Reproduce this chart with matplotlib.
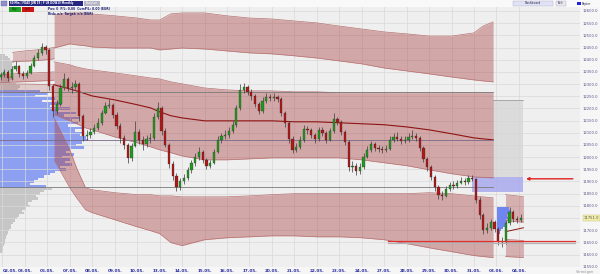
import matplotlib
matplotlib.use("Agg")
import matplotlib.pyplot as plt
from matplotlib.patches import Rectangle

# ---------------- data ----------------
date_labels = ["02.05.", "03.05.", "06.05.", "07.05.", "08.05.", "09.05.", "10.05.",
               "13.05.", "14.05.", "15.05.", "16.05.", "17.05.", "20.05.", "21.05.",
               "22.05.", "23.05.", "24.05.", "27.05.", "28.05.", "29.05.", "30.05.",
               "31.05.", "03.06.", "04.06."]
bars_per_day = 6
first_open = 12330
closes = [12338, 12350, 12325, 12362, 12374, 12342, 12333, 12346, 12374, 12407,
          12428, 12452, 12440, 12292, 12190, 12219, 12284, 12321, 12284, 12288,
          12301, 12169, 12087, 12092, 12104, 12120, 12141, 12182, 12211, 12215,
          12174, 12128, 12079, 12051, 11997, 12046, 12104, 12071, 12055, 12075,
          12079, 12165, 12202, 12108, 12051, 11973, 11924, 11878, 11903, 11915,
          11948, 11977, 12001, 12022, 11989, 11965, 11977, 12022, 12071, 12087,
          12092, 12108, 12133, 12202, 12276, 12288, 12268, 12251, 12219, 12190,
          12231, 12247, 12243, 12247, 12239, 12182, 12141, 12075, 12030, 12042,
          12071, 12116, 12110, 12092, 12075, 12112, 12100, 12071, 12108, 12157,
          12145, 12104, 12063, 11960, 11965, 11944, 11960, 12001, 12030, 12055,
          12038, 12034, 12030, 12034, 12071, 12083, 12075, 12067, 12071, 12083,
          12087, 12079, 12038, 11993, 11960, 11919, 11878, 11846, 11841, 11870,
          11887, 11882, 11895, 11903, 11899, 11915, 11911, 11825, 11764, 11702,
          11710, 11735, 11706, 11657, 11653, 11731, 11776, 11747, 11740, 11751]
highs = [12350, 12362, 12358, 12375, 12395, 12380, 12352, 12358, 12385, 12420,
         12445, 12470, 12462, 12448, 12300, 12235, 12300, 12345, 12330, 12310,
         12318, 12310, 12178, 12110, 12120, 12135, 12160, 12195, 12225, 12240,
         12222, 12185, 12140, 12090, 12060, 12060, 12150, 12115, 12085, 12090,
         12100, 12180, 12225, 12210, 12120, 12060, 11985, 11935, 11915, 11930,
         11960, 11990, 12015, 12040, 12030, 11995, 11990, 12035, 12085, 12100,
         12110, 12125, 12150, 12215, 12300, 12305, 12295, 12280, 12260, 12228,
         12245, 12262, 12258, 12262, 12255, 12248, 12190, 12150, 12085, 12060,
         12085, 12130, 12128, 12120, 12100, 12125, 12122, 12108, 12120, 12180,
         12165, 12152, 12112, 12070, 11985, 11975, 11975, 12015, 12045, 12068,
         12062, 12050, 12045, 12048, 12085, 12098, 12105, 12085, 12088, 12098,
         12112, 12098, 12088, 12045, 12002, 11968, 11928, 11885, 11860, 11882,
         11898, 11900, 11908, 11918, 11915, 11925, 11925, 11915, 11835, 11772,
         11728, 11748, 11742, 11715, 11672, 11742, 11795, 11785, 11760, 11765]
lows = [12318, 12330, 12312, 12318, 12355, 12330, 12320, 12325, 12340, 12368,
        12398, 12420, 12425, 12275, 12165, 12175, 12210, 12275, 12270, 12265,
        12278, 12150, 12065, 12070, 12080, 12095, 12110, 12130, 12175, 12200,
        12160, 12115, 12060, 12035, 11975, 11985, 12040, 12055, 12030, 12040,
        12060, 12070, 12155, 12090, 12040, 11955, 11905, 11860, 11865, 11890,
        11905, 11935, 11965, 11990, 11975, 11950, 11955, 11970, 12015, 12060,
        12075, 12080, 12100, 12125, 12195, 12265, 12255, 12235, 12205, 12175,
        12180, 12222, 12230, 12232, 12225, 12170, 12125, 12060, 12018, 12020,
        12035, 12062, 12095, 12080, 12060, 12068, 12088, 12058, 12065, 12100,
        12130, 12090, 12050, 11945, 11940, 11925, 11930, 11952, 11995, 12022,
        12025, 12020, 12015, 12022, 12028, 12062, 12065, 12055, 12058, 12062,
        12075, 12065, 12025, 11980, 11945, 11905, 11862, 11830, 11825, 11835,
        11860, 11870, 11875, 11888, 11885, 11890, 11900, 11810, 11748, 11685,
        11690, 11700, 11692, 11640, 11632, 11645, 11722, 11735, 11728, 11735]

# channel bands (x in trading days)
band_days = [2.3, 3.0, 3.3, 3.7, 4, 5, 6, 6.6, 7, 7.5, 8, 9, 10, 11, 12, 13, 14,
             15, 16, 17, 18, 19, 20, 21, 21.4, 21.85]
top_upper = [12584, 12592, 12592, 12592, 12588, 12580, 12571, 12563, 12563, 12588,
             12592, 12592, 12580, 12571, 12567, 12559, 12551, 12538, 12526, 12514,
             12506, 12497, 12497, 12510, 12538, 12555]
top_lower = [12448, 12465, 12461, 12457, 12452, 12448, 12448, 12448, 12440, 12444,
             12448, 12444, 12436, 12428, 12424, 12416, 12407, 12395, 12383, 12366,
             12354, 12342, 12329, 12317, 12313, 12309]
mid_upper = [12391, 12379, 12370, 12362, 12358, 12346, 12333, 12325, 12321, 12309,
             12301, 12284, 12276, 12272, 12272, 12268, 12268, 12264, 12264, 12264,
             12264, 12264, 12264, 12264, 12264, 12264]
mid_center = [12297, 12280, 12272, 12260, 12251, 12235, 12215, 12202, 12186, 12170,
              12161, 12149, 12149, 12149, 12149, 12145, 12145, 12141, 12137, 12133,
              12124, 12112, 12096, 12079, 12075, 12071]
mid_lower = [12174, 12149, 12137, 12120, 12112, 12083, 12059, 12042, 12030, 12018,
             12005, 11989, 11989, 11993, 11997, 11997, 11997, 11997, 11989, 11977,
             11965, 11948, 11932, 11919, 11917, 11915]
low_upper = [12161, 12030, 11956, 11874, 11866, 11854, 11846, 11846, 11841, 11841,
             11837, 11837, 11837, 11841, 11846, 11850, 11850, 11850, 11850, 11850,
             11850, 11854, 11850, 11841, 11837, 11833]
low_lower = [11989, 11874, 11833, 11784, 11772, 11743, 11714, 11698, 11686, 11649,
             11637, 11661, 11669, 11673, 11677, 11677, 11673, 11673, 11669, 11661,
             11645, 11628, 11612, 11596, 11592, 11588]

# early narrow bands (first two days)
early_days_a = [0.45, 1.0, 1.5, 2.0, 2.3]
early_a_hi = [12430, 12436, 12440, 12446, 12450]
early_a_lo = [12392, 12394, 12396, 12400, 12404]
early_days_b = [-0.11, 0.5, 1.0, 1.5, 2.0, 2.3]
early_b_hi = [12340, 12342, 12344, 12346, 12348, 12350]
early_b_lo = [12306, 12308, 12310, 12312, 12314, 12316]
early_c_hi = [12300, 12300, 12300, 12299, 12298, 12298]
early_c_lo = [12268, 12268, 12268, 12268, 12268, 12268]

# new bands on the last day
late_days = [22.4, 22.8, 23.2]
late_up_hi = [11846, 11842, 11838]
late_up_lo = [11740, 11736, 11733]
late_lo_hi = [11662, 11660, 11658]
late_lo_lo = [11592, 11590, 11588]
late_center = [11694, 11702, 11710]

# volume profile (left)
vp_prices = list(range(12420, 11600, -10))
vp_volume = [500, 800, 1000, 1400, 1200, 1600, 1100, 1300, 900, 1200,
             1400, 1000, 1600, 2000, 1800,
             4000, 4800, 3500, 5500, 4200, 6200, 5000, 7000, 5800, 7600,
             6400, 8000, 7200, 7800, 6800, 8200, 7500, 8400, 8000, 8600,
             8800, 8200, 7600, 8400, 7000, 6600, 7400, 6200, 7000, 6500,
             7200, 6000, 6600, 5500, 5000, 4400, 3800, 3400, 3000,
             4600, 5200, 4400, 4000, 3600, 3800, 3200, 2800, 3000, 2600,
             2200, 2400, 1900, 1700, 1500, 1300, 1100, 1100, 900, 800,
             700, 600, 500, 450, 350, 300, 250, 200]
value_area_high = 12268
point_of_control = 12071
value_area_low = 11879

# volume profile (last day)
vp2_prices = [11790, 11780, 11770, 11760, 11750, 11740, 11730, 11720, 11710, 11700, 11690]
vp2_volume = [1200, 1400, 1200, 1000, 1100, 900, 1000, 800, 600, 400, 300]

zone_grey = (21.85, 23.2, 11919, 12235)
zone_blue = (20.9, 23.2, 11857, 11919)
alert_price = 11911
stop_line_price = 11655
y_ticks = list(range(11550, 12601, 50))

# ---------------- figure ----------------
W, H = 600, 274
fig = plt.figure(figsize=(6.0, 2.74), dpi=100, facecolor="#f6f6f6")
rect = [0, 7 / H, 580 / W, 1 - 7 / H]
xlim = (-0.11, 25.72)
ylim = (11549, 12645)

# profile axes (background)
axp = fig.add_axes(rect, facecolor="#efefef")
axp.set_xlim(0, 58000)
axp.set_ylim(*ylim)
axp.set_xticks([]); axp.set_yticks([])
for s in axp.spines.values():
    s.set_visible(False)
vp_colors = ["#8c9ff0" if value_area_low <= p <= value_area_high + 2 else "#c6c6c6"
             for p in vp_prices]
axp.barh(vp_prices, vp_volume, height=10, left=0, color=vp_colors, linewidth=0)

# main axes
ax = fig.add_axes(rect)
ax.set_facecolor("none")
ax.set_xlim(*xlim)
ax.set_ylim(*ylim)
for s in ax.spines.values():
    s.set_visible(False)
ax.set_xticks(range(len(date_labels)))
ax.set_xticklabels(date_labels, fontsize=3, color="#2c2ca0", fontweight="bold")
ax.get_xticklabels()[0].set_horizontalalignment("left")
ax.yaxis.tick_right()
ax.set_yticks(y_ticks)
ax.set_yticklabels([f"{v:.1f}" for v in y_ticks], fontsize=2.7, color="#55558a")
ax.tick_params(axis="both", length=0)
ax.tick_params(axis="x", pad=1.2)
ax.tick_params(axis="y", pad=2)
ax.grid(True, color="#d9d9d9", lw=0.5, zorder=0)
ax.set_axisbelow(True)

band_fc = "#a83c3c"
band_alpha = 0.40
edge_c = "#b77272"

def band(xs, hi, lo, alpha=band_alpha):
    ax.fill_between(xs, lo, hi, color=band_fc, alpha=alpha, lw=0, zorder=2)
    ax.plot(xs, hi, color=edge_c, lw=0.5, zorder=2.1)
    ax.plot(xs, lo, color=edge_c, lw=0.5, zorder=2.1)

band(band_days, top_upper, top_lower)
band(band_days, mid_upper, mid_lower)
band(band_days, low_upper, low_lower)
ax.plot(band_days, mid_center, color="#8e1414", lw=0.8, zorder=2.2)
band(early_days_a, early_a_hi, early_a_lo, alpha=0.3)
band(early_days_b, early_b_hi, early_b_lo, alpha=0.35)
band(early_days_b, early_c_hi, early_c_lo, alpha=0.2)
band(late_days, late_up_hi, late_up_lo, alpha=0.35)
band(late_days, late_lo_hi, late_lo_lo, alpha=0.35)
ax.plot(late_days, late_center, color="#8e1414", lw=0.7, zorder=2.2)

# profile level lines
for lvl, col in [(value_area_high, "#7a7a7a"), (point_of_control, "#7a6a8a"),
                 (value_area_low, "#7a7a7a")]:
    ax.plot([xlim[0], band_days[-1]], [lvl, lvl], color=col, lw=0.6, zorder=2.3)

# zones
gx0, gx1, gy0, gy1 = zone_grey
ax.add_patch(Rectangle((gx0, gy0), gx1 - gx0, gy1 - gy0, fc="#d6d6d6", ec="none",
                       alpha=0.8, zorder=1.5))
ax.plot([gx0, gx1], [gy1, gy1], color="#a0a0a0", lw=0.6, zorder=1.6)
bx0, bx1, by0, by1 = zone_blue
ax.add_patch(Rectangle((bx0, by0), bx1 - bx0, by1 - by0, fc="#a9a9ee", ec="none",
                       alpha=0.85, zorder=1.7))

# small profile on last day
ins = ax.inset_axes([22.03, 11685, 0.6, 110], transform=ax.transData, zorder=2.5)
ins.barh(vp2_prices, vp2_volume, height=10, color="#6f86f0", linewidth=0)
ins.set_xlim(0, 1350)
ins.set_ylim(11685, 11795)
ins.set_facecolor("none")
ins.set_xticks([]); ins.set_yticks([])
for s in ins.spines.values():
    s.set_visible(False)

# candles
opens = [first_open] + closes[:-1]
xs = [(k - 0.5) / bars_per_day for k in range(len(closes))]
ax.vlines(xs, lows, highs, color="#3a3a3a", lw=0.5, zorder=4)
bottoms = [min(o, c) for o, c in zip(opens, closes)]
heights = [max(abs(c - o), 2) for o, c in zip(opens, closes)]
cols = ["#1f9a1f" if c >= o else "#b01818" for o, c in zip(opens, closes)]
ax.bar(xs, heights, bottom=bottoms, width=0.1, color=cols, edgecolor="#2a2a2a",
       linewidth=0.2, zorder=5)

# stop line and alert arrow
ax.plot([17.17, 25.5], [stop_line_price - 6] * 2, color="#b4b4b4", lw=0.9, zorder=5.5,
        clip_on=False)
ax.plot([17.17, 25.5], [stop_line_price] * 2, color="#e03030", lw=0.9, zorder=5.6,
        clip_on=False)
ax.annotate("", xy=(23.32, alert_price), xytext=(25.4, alert_price),
            arrowprops=dict(arrowstyle="-|>", color="#e02020", lw=1.0,
                            mutation_scale=4, shrinkA=0, shrinkB=0),
            zorder=6, annotation_clip=False)

# last price label
ax.annotate(f"{closes[-1]:.1f}", xy=(1.0, closes[-1]),
            xycoords=("axes fraction", "data"), xytext=(2.5, 0),
            textcoords="offset points", fontsize=2.7, color="#555555", va="center",
            bbox=dict(boxstyle="square,pad=0.25", fc="#f0eea8", ec="#c8c080", lw=0.3),
            annotation_clip=False, zorder=7)

# ---------------- toolbar overlay ----------------
def fbox(x0, y0, x1, y1, fc, ec="none", lw=0.4):
    fig.add_artist(Rectangle((x0 / W, 1 - y1 / H), (x1 - x0) / W, (y1 - y0) / H,
                             transform=fig.transFigure, fc=fc, ec=ec, lw=lw, zorder=10))

def ftext(x, y, s, **kw):
    fig.text(x / W, 1 - y / H, s, va="center", zorder=11, **kw)

fbox(0, 0, 600, 6.5, "#f9f9f9")
fbox(1, 0.8, 7, 5.8, "#9090c8", ec="#6060a0", lw=0.3)
fbox(8.5, 0.8, 83, 5.8, "#262680")
ftext(9.5, 3.3, "60 Min | FDAX JUN 19 | F US DOW19 Monthly", fontsize=1.85,
      color="white", fontweight="bold")
fbox(84, 0.8, 100, 5.8, "#b4b4c4")
ftext(92, 3.3, "Analysen", fontsize=1.9, color="white", ha="center")
fbox(9, 7.2, 21, 11.6, "#22a022")
ftext(15, 9.4, "Buy", fontsize=2.2, color="#103010", ha="center")
fbox(22, 7.2, 34, 11.6, "#cc1414")
ftext(28, 9.4, "Sell", fontsize=2.2, color="#301010", ha="center")
ftext(48, 9.0, "Pos: 0  P/L: 0.00  CumP/L: 0.00 (EUR)", fontsize=2.2,
      color="#1c1c70", fontweight="bold")
ftext(48, 13.6, "Risk: n/a  Target: n/a (EUR)", fontsize=2.2,
      color="#1c1c70", fontweight="bold")
fbox(513, 1, 553, 6, "#e2e2f6", ec="#a8a8c8", lw=0.3)
ftext(533, 3.5, "Dashboard", fontsize=2.2, color="#222244", ha="center")
fbox(556, 1, 566, 6, "#e8e8ee", ec="#a8a8c8", lw=0.3)
ftext(561, 3.5, "Exit", fontsize=2.2, color="#222244", ha="center")
fbox(577, 1.8, 580.5, 5.3, "#2020e0")
ftext(582, 3.5, "Papier", fontsize=2.2, color="#222244")
ftext(576, 272, "Vermögen", fontsize=2.5, color="#909090")

fig.savefig("out.png", dpi=100, facecolor=fig.get_facecolor())
